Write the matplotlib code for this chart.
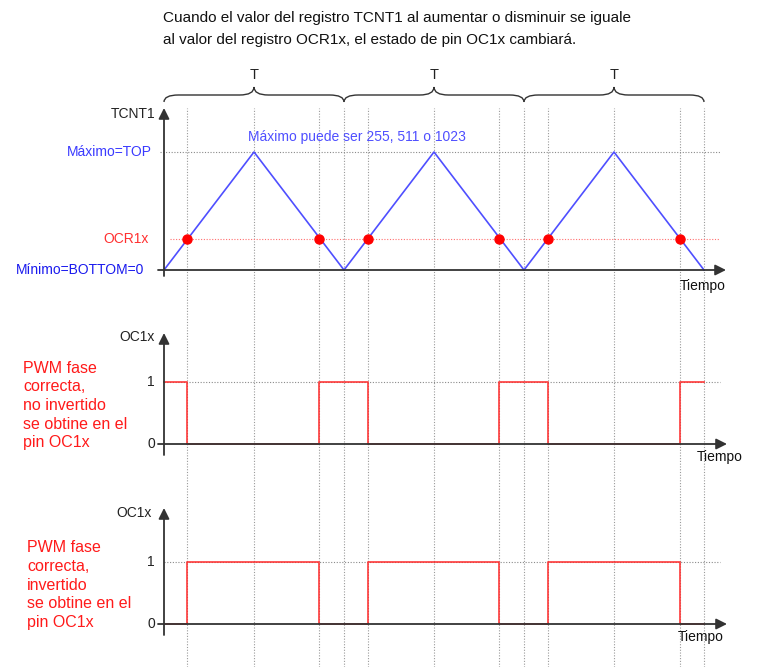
import matplotlib
matplotlib.use("Agg")
import matplotlib.pyplot as plt
from matplotlib.path import Path
from matplotlib.patches import PathPatch

plt.rcParams['font.family'] = ['Liberation Sans', 'DejaVu Sans']

# ---- data ----
t_knots = [0, 1, 2, 3, 4, 5, 6]
tcnt_vals = [0, 1, 0, 1, 0, 1, 0]
ocr_level = 0.26
match_times = [0.26, 1.72, 2.27, 3.72, 4.27, 5.73]
edges = [0, 0.26, 1.72, 2.27, 3.72, 4.27, 5.73, 6]
oc_noninv = [1, 0, 1, 0, 1, 0, 1]
oc_inv = [0, 1, 0, 1, 0, 1, 0]
period_centers = [1, 3, 5]
period_bounds = [(0, 2), (2, 4), (4, 6)]
grid_times = [0.26, 1, 1.72, 2, 2.27, 3, 3.72, 4, 4.27, 5, 5.73, 6]

title_lines = ["Cuando el valor del registro TCNT1 al aumentar o disminuir se iguale",
               "al valor del registro OCR1x, el estado de pin OC1x cambiará."]
txt_noninv = "PWM fase\ncorrecta,\nno invertido\nse obtine en el\npin OC1x"
txt_inv = "PWM fase\ncorrecta,\ninvertido\nse obtine en el\npin OC1x"

# ---- layout (pixels) ----
W, H = 757, 667
X0, PX_T = 164, 90.0          # pixel of t=0, pixels per time unit
AX_L, AX_R = 150, 735


def rect(top, bottom):
    return [AX_L / W, 1 - bottom / H, (AX_R - AX_L) / W, (bottom - top) / H]


def tx(px):
    return (px - X0) / PX_T


xlim = (tx(AX_L), tx(AX_R))

fig = plt.figure(figsize=(W / 100, H / 100), dpi=100)

# background axes for vertical dotted guides
bg = fig.add_axes(rect(108, 667))
bg.set_xlim(*xlim)
bg.set_ylim(0, 1)
bg.axis('off')
bg.vlines(grid_times, 0, 1, colors='#9a9a9a', linestyles=(0, (1, 1.5)), lw=0.8)


def make_panel(top, bottom, zero_px, unit_px):
    ax = fig.add_axes(rect(top, bottom))
    ax.set_xlim(*xlim)
    ax.set_ylim((zero_px - bottom) / unit_px, (zero_px - top) / unit_px)
    ax.axis('off')
    ax.patch.set_alpha(0)
    return ax


def arrows(ax, y_lo, y_hi, x_hi):
    kw = dict(arrowstyle='-|>', mutation_scale=16, color='#333333', lw=1.3,
              shrinkA=0, shrinkB=0)
    ax.annotate('', xy=(0, y_hi), xytext=(0, y_lo), arrowprops=kw,
                annotation_clip=False)
    ax.annotate('', xy=(x_hi, 0), xytext=(tx(158), 0), arrowprops=kw,
                annotation_clip=False)


# ---- top panel: TCNT1 ----
U1 = 118.0
ax1 = make_panel(105, 280, 270, U1)
ax1.hlines(1, tx(160), tx(720), colors='#8a8a8a', linestyles=(0, (1, 1.5)), lw=0.8)
ax1.hlines(ocr_level, tx(170), tx(720), colors='#ff7070', linestyles=(0, (1, 1.5)), lw=0.8)
ax1.plot(t_knots, tcnt_vals, color='#4f4fff', lw=1.2)
ax1.plot(match_times, [ocr_level] * len(match_times), 'o', color='red', ms=6.5)
arrows(ax1, (270 - 276) / U1, (270 - 108) / U1, tx(726))

ax1.text(tx(155), (270 - 114) / U1, "TCNT1", ha='right', va='center', fontsize=10, color='#222')
ax1.text(tx(152), 1, "Máximo=TOP", ha='right', va='center', fontsize=10, color='#3a3aff')
ax1.text(tx(149), ocr_level, "OCR1x", ha='right', va='center', fontsize=10, color='#ff3030')
ax1.text(tx(144), 0, "Mínimo=BOTTOM=0", ha='right', va='center', fontsize=10, color='#1a1aee')
ax1.text(tx(248), (270 - 137) / U1, "Máximo puede ser 255, 511 o 1023",
         ha='left', va='center', fontsize=10, color='#4f4fff')
ax1.text(tx(680), (270 - 286) / U1, "Tiempo", ha='left', va='center', fontsize=10, color='#111')

# braces with period labels
yb, yf, yt = (270 - 102) / U1, (270 - 95) / U1, (270 - 87) / U1
d = 0.16
for (a, b), c in zip(period_bounds, period_centers):
    verts = [(a, yb), (a, yf), (a + d, yf),
             (c - d, yf), (c, yf), (c, yt),
             (c, yf), (c + d, yf),
             (b - d, yf), (b, yf), (b, yb)]
    codes = [Path.MOVETO, Path.CURVE3, Path.CURVE3,
             Path.LINETO, Path.CURVE3, Path.CURVE3,
             Path.CURVE3, Path.CURVE3,
             Path.LINETO, Path.CURVE3, Path.CURVE3]
    ax1.add_patch(PathPatch(Path(verts, codes), fill=False, ec='#333', lw=1.0,
                            clip_on=False))
    ax1.text(c, (270 - 75) / U1, "T", ha='center', va='center', fontsize=10.5, color='#222')

# ---- PWM panels ----
U2 = 62.0


def pwm_panel(top, bottom, zero_px, states, oc_px, oc_right, tiempo_px, y_top_px):
    ax = make_panel(top, bottom, zero_px, U2)
    ax.hlines(1, tx(164), tx(720), colors='#8a8a8a', linestyles=(0, (1, 1.5)), lw=0.8)
    ax.step(edges, states + [states[-1]], where='post', color='#ff2a2a', lw=1.3, alpha=0.85)
    arrows(ax, (zero_px - (zero_px + 11)) / U2, (zero_px - y_top_px) / U2, tx(727))
    ax.text(tx(oc_right), (zero_px - oc_px) / U2, "OC1x", ha='right', va='center',
            fontsize=10, color='#222')
    ax.text(tx(155), 1, "1", ha='right', va='center', fontsize=10, color='#222')
    ax.text(tx(155), 0, "0", ha='right', va='center', fontsize=10, color='#222')
    ax.text(tx(tiempo_px), -13 / U2, "Tiempo", ha='left', va='center', fontsize=10, color='#111')
    return ax


ax2 = pwm_panel(330, 460, 444, oc_noninv, 337, 155, 697, 333)
ax3 = pwm_panel(505, 640, 624, oc_inv, 513, 152, 678, 508)

fig.text(23 / W, 1 - 405.5 / H, txt_noninv, ha='left', va='center', fontsize=11.5,
         color='#ff1a1a', linespacing=1.3)
fig.text(27 / W, 1 - 585 / H, txt_inv, ha='left', va='center', fontsize=11.5,
         color='#ff1a1a', linespacing=1.3)

fig.text(163 / W, 1 - 18 / H, title_lines[0], ha='left', va='center', fontsize=11, color='#111')
fig.text(163 / W, 1 - 40 / H, title_lines[1], ha='left', va='center', fontsize=11, color='#111')

fig.savefig("out.png", dpi=100, facecolor='white')
